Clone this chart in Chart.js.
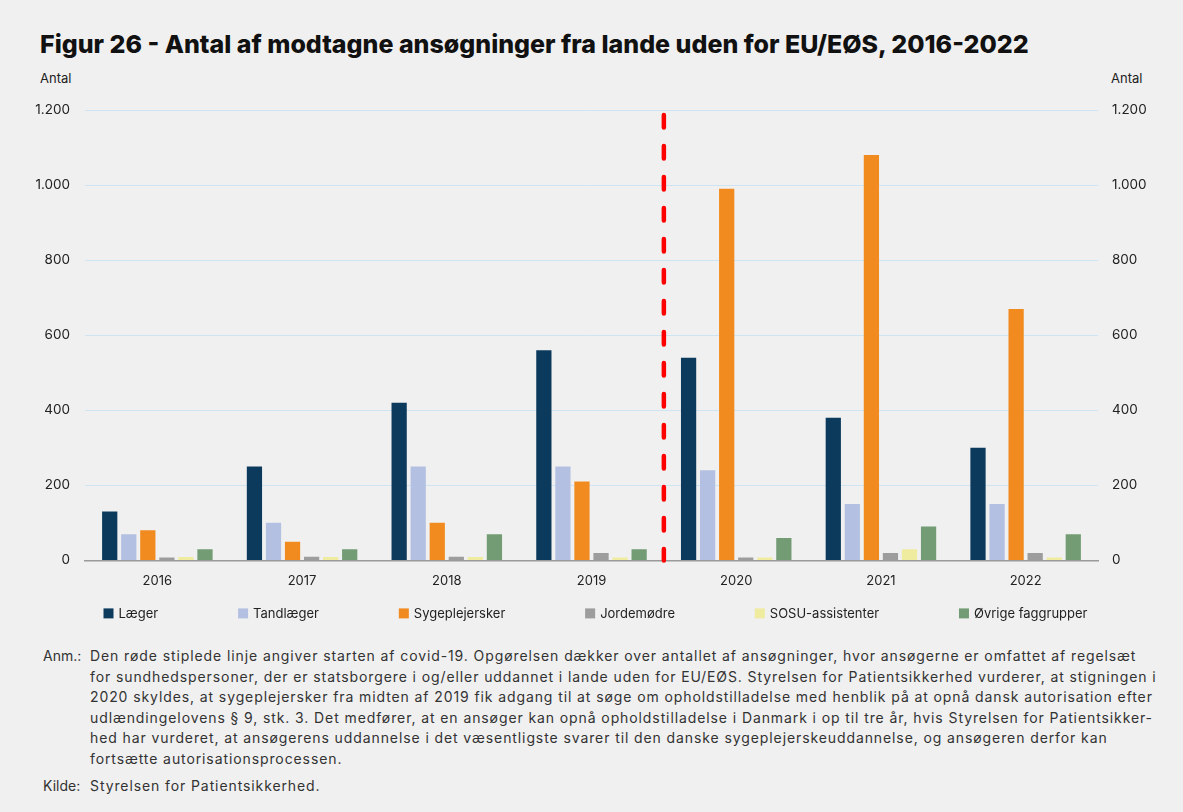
<!DOCTYPE html>
<html lang="da">
<head>
<meta charset="utf-8">
<script src="https://cdn.jsdelivr.net/npm/chart.js@4/dist/chart.umd.min.js"></script>
<style>
  html, body { margin: 0; padding: 0; background: #f0f0f0; }
  body { width: 1183px; height: 812px; position: relative; overflow: hidden; font-family: "Inter", "Noto Sans", sans-serif; color: #222; }
  #title { position: absolute; left: 40px; top: 29px; margin: 0; font-size: 25px; font-weight: 800; color: #111; white-space: nowrap; }
  .axisTitle { position: absolute; top: 70px; font-size: 13px; color: #222; }
  #wrap { position: absolute; left: 0; top: 0; width: 1183px; height: 640px; }
  #notes { position: absolute; left: 43px; top: 646px; width: 1130px; font-size: 14px; letter-spacing: 0.9px; line-height: 20.6px; color: #333; }
  .row { display: flex; white-space: nowrap; }
  .lab { width: 47px; flex: none; letter-spacing: 0; }
  .txt { flex: 1; }
</style>
</head>
<body>
<h1 id="title">Figur 26 - Antal af modtagne ansøgninger fra lande uden for EU/EØS, 2016-2022</h1>
<div class="axisTitle" style="left:40px">Antal</div>
<div class="axisTitle" style="left:1111px">Antal</div>
<div id="wrap"><canvas id="chart"></canvas></div>
<div id="notes">
  <div class="row"><div class="lab">Anm.:</div><div class="txt">Den røde stiplede linje angiver starten af covid-19. Opgørelsen dækker over antallet af ansøgninger, hvor ansøgerne er omfattet af regelsæt<br>for sundhedspersoner, der er statsborgere i og/eller uddannet i lande uden for EU/EØS. Styrelsen for Patientsikkerhed vurderer, at stigningen i<br>2020 skyldes, at sygeplejersker fra midten af 2019 fik adgang til at søge om opholdstilladelse med henblik på at opnå dansk autorisation efter<br>udlændingelovens § 9, stk. 3. Det medfører, at en ansøger kan opnå opholdstilladelse i Danmark i op til tre år, hvis Styrelsen for Patientsikker-<br>hed har vurderet, at ansøgerens uddannelse i det væsentligste svarer til den danske sygeplejerskeuddannelse, og ansøgeren derfor kan<br>fortsætte autorisationsprocessen.</div></div>
  <div class="row" style="margin-top:6px"><div class="lab">Kilde:</div><div class="txt">Styrelsen for Patientsikkerhed.</div></div>
</div>
<script>
// data
const years = ['2016', '2017', '2018', '2019', '2020', '2021', '2022'];
const laeger = [130, 250, 420, 560, 540, 380, 300];
const tandlaeger = [70, 100, 250, 250, 240, 150, 150];
const sygeplejersker = [80, 50, 100, 210, 990, 1080, 670];
const jordemoedre = [8, 10, 10, 20, 8, 20, 20];
const sosu = [9, 9, 9, 8, 8, 30, 8];
const oevrige = [30, 30, 70, 30, 60, 90, 70];
const yTicks = [0, 200, 400, 600, 800, 1000, 1200];
const covidAfter = 3; // dashed line between 2019 and 2020

const fmt = (v) => v.toString().replace(/\B(?=(\d{3})+(?!\d))/g, '.');

// red dashed line at the covid boundary
const covidLine = {
  id: 'covidLine',
  afterDatasetsDraw(chart) {
    const x = chart.scales.x;
    const y = chart.scales.y;
    const px = (x.getPixelForValue(covidAfter) + x.getPixelForValue(covidAfter + 1)) / 2;
    const ctx = chart.ctx;
    ctx.save();
    ctx.strokeStyle = '#ff0000';
    ctx.lineWidth = 4.5;
    ctx.lineCap = 'round';
    ctx.setLineDash([12.5, 18.5]);
    ctx.beginPath();
    ctx.moveTo(px, y.top + 5);
    ctx.lineTo(px, y.bottom);
    ctx.stroke();
    ctx.restore();
  }
};

// legend in one row, wider gaps than the built-in one allows
const rowLegend = {
  id: 'rowLegend',
  afterDraw(chart) {
    const ctx = chart.ctx;
    const area = chart.chartArea;
    const box = 10, gapText = 5, total = 984;
    ctx.save();
    ctx.font = '13px "Inter", "Noto Sans", sans-serif';
    ctx.textBaseline = 'middle';
    const items = chart.data.datasets.map(d => ({ text: d.label, color: d.backgroundColor, w: box + gapText + ctx.measureText(d.label).width }));
    const sum = items.reduce((a, it) => a + it.w, 0);
    const gap = (total - sum) / (items.length - 1);
    let x = (area.left + area.right) / 2 - total / 2 + 4;
    const y = area.bottom + 54;
    items.forEach(it => {
      ctx.fillStyle = it.color;
      ctx.fillRect(x, y - 6, box, box);
      ctx.fillStyle = '#222';
      ctx.fillText(it.text, x + box + gapText, y);
      x += it.w + gap;
    });
    ctx.restore();
  }
};

function ds(label, data, color) {
  return { label, data, backgroundColor: color, borderWidth: 0, categoryPercentage: 0.79, barPercentage: 0.8 };
}

Chart.defaults.font.family = '"Inter", "Noto Sans", sans-serif';
Chart.defaults.color = '#222';

new Chart(document.getElementById('chart'), {
  type: 'bar',
  data: {
    labels: years,
    datasets: [
      ds('Læger', laeger, '#0b3a5d'),
      ds('Tandlæger', tandlaeger, '#b3c0e2'),
      ds('Sygeplejersker', sygeplejersker, '#f28b1f'),
      ds('Jordemødre', jordemoedre, '#9d9d9d'),
      ds('SOSU-assistenter', sosu, '#efeca0'),
      ds('Øvrige faggrupper', oevrige, '#739c74')
    ]
  },
  options: {
    responsive: true,
    maintainAspectRatio: false,
    animation: false,
    layout: { padding: { left: 30, right: 0, top: 110, bottom: 38 } },
    plugins: {
      tooltip: { enabled: false },
      legend: { display: false }
    },
    scales: {
      x: {
        grid: { display: false, drawTicks: false },
        border: { display: true, color: '#9a9a9a', width: 1.5 },
        ticks: { font: { size: 13 }, padding: 13, color: '#222' }
      },
      y: {
        position: 'left',
        min: 0, max: 1200,
        afterBuildTicks(s) { s.ticks = yTicks.map(v => ({ value: v })); },
        afterFit(s) { s.width = 55; },
        grid: { color: (c) => c.tick && c.tick.value === 0 ? '#9a9a9a' : '#cfe4f2', drawTicks: false, lineWidth: 1 },
        border: { display: false },
        ticks: { callback: fmt, font: { size: 13.5 }, padding: 15, color: '#222' }
      },
      y2: {
        position: 'right',
        min: 0, max: 1200,
        afterBuildTicks(s) { s.ticks = yTicks.map(v => ({ value: v })); },
        afterFit(s) { s.width = 85; },
        grid: { display: false, drawTicks: false },
        border: { display: false },
        ticks: { callback: fmt, font: { size: 13.5 }, padding: 14, color: '#222' }
      }
    }
  },
  plugins: [covidLine, rowLegend]
});
</script>
</body>
</html>
